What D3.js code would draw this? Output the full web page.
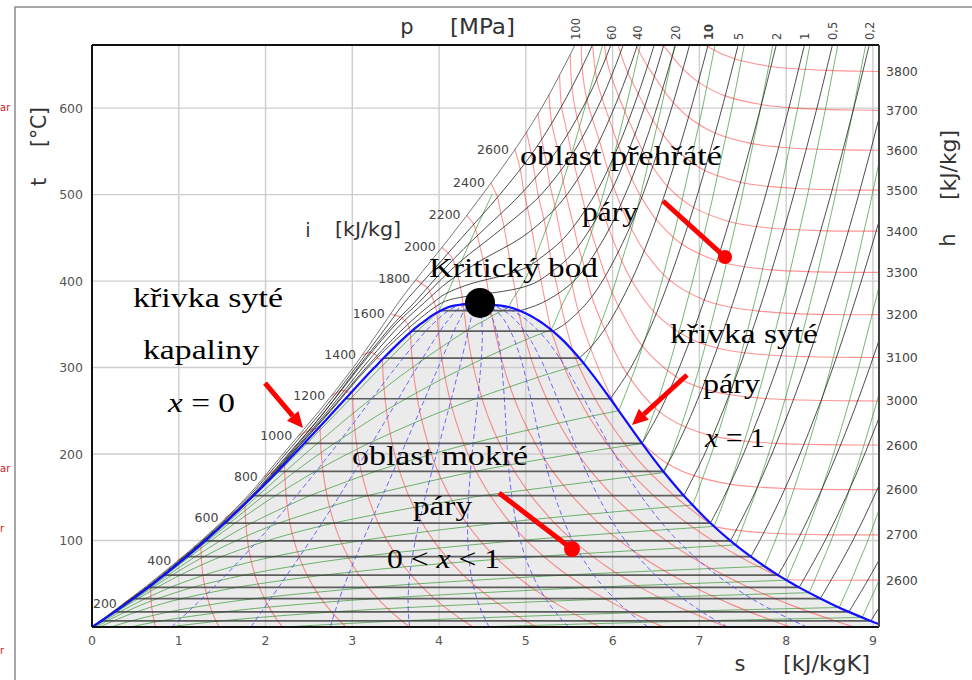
<!DOCTYPE html>
<html>
<head>
<meta charset="utf-8">
<script src="https://cdn.jsdelivr.net/npm/d3@7/dist/d3.min.js"></script>
<style>
  body { margin: 0; background: #fff; }
  svg { display: block; }
</style>
</head>
<body>
<svg id="chart" width="972" height="680"></svg>
<script>
// ---------------------------------------------------------------
// Water / steam property data
// saturation rows: [T °C, p MPa, vf, vg (m3/kg), hf, hg (kJ/kg), sf, sg (kJ/kgK)]
// ---------------------------------------------------------------
const saturation = [
  [0.01, 0.000611, 0.001000, 206.00, 0.00, 2500.9, 0.0000, 9.1556],
  [6.97, 0.001, 0.001000, 129.19, 29.30, 2513.7, 0.1059, 8.9749],
  [17.50, 0.002, 0.001001, 66.99, 73.43, 2532.9, 0.2606, 8.7227],
  [25.0, 0.003170, 0.001003, 43.340, 104.83, 2546.5, 0.3672, 8.5567],
  [32.87, 0.005, 0.001005, 28.185, 137.75, 2560.7, 0.4762, 8.3938],
  [45.81, 0.01, 0.001010, 14.670, 191.81, 2583.9, 0.6492, 8.1488],
  [50.0, 0.012352, 0.001012, 12.026, 209.34, 2591.3, 0.7038, 8.0748],
  [60.06, 0.02, 0.001017, 7.6481, 251.42, 2608.9, 0.8320, 7.9073],
  [70.0, 0.031201, 0.001023, 5.0396, 293.07, 2626.1, 0.9551, 7.7540],
  [81.32, 0.05, 0.001030, 3.2403, 340.54, 2645.2, 1.0912, 7.5931],
  [99.61, 0.1, 0.001043, 1.6941, 417.51, 2675.0, 1.3028, 7.3588],
  [120.21, 0.2, 0.001061, 0.88578, 504.70, 2706.3, 1.5302, 7.1270],
  [150.0, 0.4762, 0.001091, 0.39248, 632.18, 2745.9, 1.8418, 6.8371],
  [151.83, 0.5, 0.001093, 0.37483, 640.09, 2748.1, 1.8604, 6.8207],
  [179.88, 1.0, 0.001127, 0.19436, 762.51, 2777.1, 2.1381, 6.5850],
  [200.0, 1.5549, 0.001157, 0.12721, 852.26, 2792.0, 2.3305, 6.4302],
  [212.38, 2.0, 0.001177, 0.09959, 908.47, 2798.3, 2.4467, 6.3390],
  [240.0, 3.3469, 0.001229, 0.05971, 1037.5, 2803.0, 2.7020, 6.1423],
  [250.0, 3.9762, 0.001252, 0.05008, 1085.7, 2800.9, 2.7935, 6.0721],
  [263.94, 5.0, 0.001286, 0.03945, 1154.5, 2794.2, 2.9207, 5.9737],
  [290.0, 7.4416, 0.001366, 0.02557, 1290.0, 2765.7, 3.1594, 5.7821],
  [300.0, 8.5879, 0.001404, 0.02166, 1344.8, 2749.6, 3.2548, 5.7059],
  [311.00, 10.0, 0.001453, 0.018028, 1408.1, 2725.5, 3.3606, 5.6159],
  [330.0, 12.858, 0.001561, 0.012996, 1525.9, 2665.3, 3.5518, 5.4435],
  [342.16, 15.0, 0.001657, 0.010341, 1610.3, 2610.8, 3.6848, 5.3108],
  [350.0, 16.529, 0.001741, 0.008806, 1670.9, 2563.6, 3.7784, 5.2110],
  [355.0, 17.57, 0.001809, 0.007792, 1716.6, 2524.5, 3.8507, 5.1365],
  [360.0, 18.666, 0.001895, 0.006950, 1761.7, 2481.5, 3.9167, 5.0536],
  [365.75, 20.0, 0.002040, 0.005862, 1827.2, 2412.3, 4.0156, 4.9314],
  [370.0, 21.044, 0.002217, 0.004953, 1890.7, 2334.5, 4.1112, 4.8012],
  [372.0, 21.55, 0.00237, 0.00440, 1950.0, 2250.0, 4.190, 4.680],
  [373.0, 21.81, 0.00255, 0.00385, 1992.0, 2190.0, 4.262, 4.574],
  [373.6, 21.97, 0.00275, 0.00350, 2030.0, 2140.0, 4.330, 4.490],
  [373.95, 22.064, 0.003106, 0.003106, 2084.3, 2084.3, 4.4070, 4.4070]
];

// isobar tables: rows [T °C, s, h, v]; subcritical ones start at saturated vapour
const steam_0_001 = [[6.97,8.9749,2513.7,129.19],[50,9.2368,2592.0,148.67],[100,9.5116,2687.5,171.96],[150,9.7520,2783.0,195.13]];
const steam_0_002 = [[17.50,8.7227,2532.9,66.99],[50,8.9169,2592.0,74.34],[100,9.1917,2687.5,85.98],[150,9.4321,2783.0,97.56],[200,9.6477,2879.6,109.13]];
const steam_0_005 = [[32.87,8.3938,2560.7,28.185],[50,8.4940,2592.3,29.73],[100,8.7688,2687.5,34.39],[150,9.0092,2783.0,39.03],[200,9.2248,2879.6,43.65],[250,9.4214,2977.5,48.27],[300,9.6026,3076.7,52.89]];
const steam_0_01 = [[45.81,8.1488,2583.9,14.670],[50,8.1741,2592.0,14.867],[100,8.4489,2687.5,17.196],[150,8.6893,2783.0,19.513],[200,8.9049,2879.6,21.826],[250,9.1015,2977.5,24.136],[300,9.2827,3076.7,26.446],[350,9.4520,3177.4,28.755],[400,9.6115,3279.1,31.063],[500,9.9027,3489.1,35.680]];
const steam_0_02 = [[60.06,7.9073,2608.9,7.6481],[100,8.1287,2686.2,8.585],[150,8.3694,2782.3,9.748],[200,8.5850,2879.2,10.907],[250,8.7816,2977.2,12.064],[300,8.9628,3076.5,13.219],[350,9.1316,3177.2,14.373],[400,9.2907,3279.0,15.529],[500,9.5819,3489.0,17.838],[600,9.8457,3705.9,20.146]];
const steam_0_05 = [[81.32,7.5931,2645.2,3.2403],[100,7.6953,2682.4,3.4187],[150,7.9413,2780.2,3.8897],[200,8.1592,2877.7,4.3562],[250,8.3568,2976.2,4.8206],[300,8.5387,3075.8,5.2841],[400,8.8659,3278.9,6.2094],[500,9.1566,3488.7,7.1338],[600,9.4204,3705.9,8.0577],[700,9.6633,3929.0,8.9813]];
const steam_0_1 = [[99.61,7.3588,2675.0,1.6941],[150,7.6148,2776.6,1.9367],[200,7.8356,2875.5,2.1724],[250,8.0346,2974.5,2.4062],[300,8.2172,3074.5,2.6389],[400,8.5452,3278.6,3.1027],[500,8.8362,3488.7,3.5655],[600,9.0999,3705.6,4.0279],[700,9.3424,3928.9,4.4900]];
const steam_0_2 = [[120.21,7.1270,2706.3,0.88578],[150,7.2810,2769.1,0.95986],[200,7.5081,2870.7,1.08049],[250,7.7100,2971.2,1.19890],[300,7.8941,3072.1,1.31623],[400,8.2236,3277.0,1.54934],[500,8.5153,3487.7,1.78142],[600,8.7793,3704.8,2.01302],[700,9.0221,3928.2,2.24434]];
const steam_0_5 = [[151.83,6.8207,2748.1,0.37483],[200,7.0610,2855.8,0.42503],[250,7.2725,2961.0,0.47443],[300,7.4614,3064.6,0.52261],[350,7.6346,3168.1,0.57015],[400,7.7956,3272.4,0.61731],[500,8.0893,3484.5,0.71095],[600,8.3544,3702.5,0.80409],[700,8.5978,3925.7,0.89696]];
const steam_1 = [[179.88,6.5850,2777.1,0.19436],[200,6.6956,2828.3,0.20602],[250,6.9265,2943.1,0.23275],[300,7.1246,3051.6,0.25799],[350,7.3029,3158.2,0.28250],[400,7.4670,3264.5,0.30661],[500,7.7642,3479.1,0.35411],[600,8.0311,3698.6,0.40111],[700,8.2755,3923.0,0.44783]];
const steam_2 = [[212.38,6.3390,2798.3,0.09959],[250,6.5475,2903.3,0.11150],[300,6.7684,3024.2,0.12551],[350,6.9583,3137.7,0.13860],[400,7.1292,3248.4,0.15122],[450,7.2866,3358.2,0.16354],[500,7.4337,3468.3,0.17568],[600,7.7043,3690.7,0.19962],[700,7.9509,3917.4,0.22326]];
const steam_5 = [[263.94,5.9737,2794.2,0.03945],[300,6.2110,2925.7,0.04535],[350,6.4516,3069.3,0.05197],[400,6.6483,3196.7,0.05784],[450,6.8210,3317.2,0.06332],[500,6.9781,3434.7,0.06858],[600,7.2605,3666.9,0.07870],[700,7.5136,3900.3,0.08852]];
const steam_10 = [[311.00,5.6159,2725.5,0.018028],[325,5.7596,2810.3,0.019877],[350,5.9460,2924.0,0.022440],[400,6.2141,3097.5,0.026436],[450,6.4219,3242.4,0.029782],[500,6.5995,3375.1,0.032811],[600,6.9045,3625.8,0.038378],[700,7.1693,3870.0,0.043597]];
const steam_15 = [[342.16,5.3108,2610.8,0.010341],[350,5.4438,2692.9,0.011481],[375,5.7050,2868.0,0.013620],[400,5.8819,2975.7,0.015671],[450,6.1434,3157.9,0.018477],[500,6.3480,3310.8,0.020828],[600,6.6796,3583.1,0.024921],[700,6.9605,3839.1,0.028597]];
const steam_20 = [[365.75,4.9314,2412.3,0.005862],[375,5.1900,2580.0,0.007650],[400,5.5525,2816.9,0.009950],[450,5.9043,3061.7,0.012721],[500,6.1446,3241.2,0.014793],[550,6.3390,3396.2,0.016571],[600,6.5075,3539.0,0.018185],[700,6.8037,3807.8,0.021134]];
const steam_25 = [[0,0.000,25,0.00099],[50,0.699,231,0.00100],[100,1.300,440,0.00103],[150,1.850,650,0.00108],[200,2.306,866,0.00114],[250,2.752,1095,0.00122],[300,3.180,1338,0.00135],[350,3.700,1625,0.00160],[375,4.035,1849,0.00198],[380,4.189,1949,0.00222],[384,4.441,2114,0.00265],[388,4.728,2303,0.00340],[392,4.932,2438,0.00420],[396,5.059,2523,0.00520],[400,5.142,2579,0.00601],[425,5.472,2808,0.00789],[450,5.674,2951,0.00918],[500,5.964,3166,0.01114],[550,6.182,3336,0.01274],[600,6.364,3494,0.01414],[650,6.522,3638,0.01543],[700,6.667,3776,0.01664]];
const steam_30 = [[0,0.000,30,0.00099],[50,0.697,235,0.00100],[100,1.298,444,0.00103],[150,1.845,654,0.00107],[200,2.300,868,0.00113],[250,2.740,1093,0.00121],[300,3.160,1330,0.00133],[350,3.640,1600,0.00156],[375,3.931,1792,0.00179],[385,4.069,1882,0.00196],[395,4.307,2040,0.00236],[400,4.476,2153,0.00280],[405,4.682,2292,0.00345],[410,4.860,2413,0.00410],[415,4.990,2502,0.00460],[420,5.080,2564,0.00497],[425,5.147,2612,0.00530],[450,5.442,2821,0.00674],[500,5.796,3085,0.00869],[550,6.040,3277,0.01018],[600,6.237,3447,0.01145],[650,6.407,3605,0.01259],[700,6.560,3750,0.01365]];
const steam_40 = [[0,0.000,40,0.00098],[50,0.695,244,0.00100],[100,1.295,452,0.00102],[150,1.838,661,0.00107],[200,2.288,873,0.00112],[250,2.720,1093,0.00120],[300,3.120,1322,0.00131],[350,3.560,1570,0.00150],[375,3.829,1743,0.00164],[400,4.115,1931,0.00191],[425,4.504,2199,0.00254],[450,4.945,2512,0.00369],[475,5.250,2730,0.00475],[500,5.474,2907,0.00562],[550,5.786,3148,0.00699],[600,6.017,3350,0.00809],[650,6.208,3532,0.00905],[700,6.374,3693,0.00993]];
const steam_50 = [[0,0.000,49,0.00098],[50,0.693,253,0.00099],[100,1.292,460,0.00102],[150,1.830,668,0.00106],[200,2.275,879,0.00111],[250,2.690,1096,0.00119],[300,3.079,1318,0.00129],[350,3.500,1555,0.00146],[375,3.764,1717,0.00156],[400,4.003,1874,0.00173],[425,4.273,2061,0.00201],[450,4.590,2285,0.00249],[475,4.900,2510,0.00318],[500,5.176,2723,0.00389],[550,5.556,3020,0.00512],[600,5.825,3253,0.00611],[650,6.037,3450,0.00697],[700,6.218,3624,0.00773]];
const steam_60 = [[0,0.000,59,0.00097],[50,0.690,262,0.00099],[100,1.285,468,0.00102],[150,1.820,675,0.00106],[200,2.262,885,0.00111],[250,2.688,1100,0.00118],[300,3.065,1318,0.00127],[350,3.470,1546,0.00143],[375,3.714,1700,0.00150],[400,3.932,1843,0.00163],[425,4.163,2002,0.00182],[450,4.414,2180,0.00209],[475,4.680,2375,0.00249],[500,4.936,2570,0.00295],[550,5.352,2887,0.00396],[600,5.653,3157,0.00483],[650,5.889,3366,0.00559],[700,6.079,3550,0.00627]];
const steam_80 = [[0,0.000,77,0.00096],[50,0.675,280,0.00098],[100,1.273,483,0.00101],[150,1.800,690,0.00105],[200,2.230,897,0.00110],[250,2.655,1112,0.00116],[300,3.040,1328,0.00124],[350,3.415,1545,0.00136],[375,3.600,1678,0.00142],[400,3.820,1815,0.00151],[450,4.260,2100,0.00174],[500,4.700,2420,0.00213],[550,5.090,2720,0.00268],[600,5.400,2990,0.00328],[650,5.660,3210,0.00385],[700,5.890,3400,0.00436]];
const steam_100 = [[0,0.000,95,0.00096],[50,0.660,290,0.00098],[100,1.260,495,0.00100],[150,1.780,700,0.00104],[200,2.200,910,0.00108],[250,2.620,1125,0.00114],[300,3.010,1340,0.00121],[350,3.360,1545,0.00131],[375,3.530,1660,0.00137],[400,3.720,1790,0.00145],[450,4.120,2060,0.00160],[500,4.500,2330,0.00185],[550,4.860,2590,0.00220],[600,5.180,2830,0.00260],[650,5.450,3050,0.00300],[700,5.700,3250,0.00340]];

const isobarTables = [
  [0.001, steam_0_001], [0.002, steam_0_002], [0.005, steam_0_005], [0.01, steam_0_01],
  [0.02, steam_0_02], [0.05, steam_0_05], [0.1, steam_0_1], [0.2, steam_0_2],
  [0.5, steam_0_5], [1, steam_1], [2, steam_2], [5, steam_5], [10, steam_10],
  [15, steam_15], [20, steam_20], [25, steam_25], [30, steam_30], [40, steam_40],
  [50, steam_50], [60, steam_60], [80, steam_80], [100, steam_100]
];

// drawn iso-lines
const enthalpyLines = [200, 400, 600, 800, 1000, 1200, 1400, 1600, 1800, 2000, 2200, 2400, 2600,
                       2700, 2800, 2900, 3000, 3100, 3200, 3300, 3400, 3500, 3600, 3700, 3800];
const volumeLines = [0.002, 0.005, 0.01, 0.02, 0.05, 0.1, 0.2, 0.5, 1, 2, 5, 10, 20, 50, 100];
const qualityLines = [0.1, 0.2, 0.3, 0.4, 0.5, 0.6, 0.7, 0.8, 0.9];
const isothermGrid = [50, 75, 100, 125, 150, 175, 200, 250, 300, 325, 350, 375, 400, 425, 450, 500, 550, 600, 650, 700];

// labels
const tTicks = [100, 200, 300, 400, 500, 600];
const sTicks = [0, 1, 2, 3, 4, 5, 6, 7, 8, 9];
const pressureLabels = [[100, "100"], [60, "60"], [40, "40"], [20, "20"], [10, "10"], [5, "5"],
                        [2, "2"], [1, "1"], [0.5, "0,5"], [0.2, "0,2"]];
const leftHLabels = [200, 400, 600, 800, 1000, 1200, 1400, 1600, 1800, 2000, 2200, 2400, 2600];
const rightHLines = [3800, 3700, 3600, 3500, 3400, 3300, 3200, 3100, 3000, 2900, 2800, 2700, 2600];
const rightHTexts = ["3800", "3700", "3600", "3500", "3400", "3300", "3200", "3100", "3000",
                     "2600", "2600", "2700", "2600"];
const marginTexts = [[107, "ar"], [468, "ar"], [528, "r"], [650, "r"]];
const criticalMarker = { s: 4.472, t: 374.7 };

// ---------------------------------------------------------------
const PC = 22.064, TC = 373.95;
const sat = saturation.map(r => ({T: r[0], p: r[1], vf: r[2], vg: r[3], hf: r[4], hg: r[5], sf: r[6], sg: r[7]}));
const isobars = isobarTables.map(([p, rows]) => ({
  p, rows: rows.map(r => ({T: r[0], s: r[1], h: r[2], v: r[3]}))
}));

const svg = d3.select("#chart");
const x = d3.scaleLinear().domain([0, 9.07]).range([92, 879]);
const y = d3.scaleLinear().domain([0, 673]).range([627, 45]);
const X0 = x(0), X1 = x(9.07), Y0 = y(0), Y1 = y(673);

const lerp = (a, b, f) => a + f * (b - a);
const loglerp = (a, b, f) => Math.exp(Math.log(a) + f * (Math.log(b) - Math.log(a)));

function satAt(T) {
  for (let i = 0; i < sat.length - 1; i++) {
    const a = sat[i], b = sat[i + 1];
    if (T >= a.T && T <= b.T) {
      const f = (T - a.T) / (b.T - a.T);
      return {T, p: loglerp(a.p, b.p, f), vf: loglerp(a.vf, b.vf, f), vg: loglerp(a.vg, b.vg, f),
              hf: lerp(a.hf, b.hf, f), hg: lerp(a.hg, b.hg, f), sf: lerp(a.sf, b.sf, f), sg: lerp(a.sg, b.sg, f)};
    }
  }
  return null;
}

function stateOnIsobar(ib, T) {
  const r = ib.rows;
  for (let i = 0; i < r.length - 1; i++) {
    const a = r[i], b = r[i + 1];
    if (T >= a.T && T <= b.T) {
      const f = (T - a.T) / (b.T - a.T);
      return {p: ib.p, s: lerp(a.s, b.s, f), h: lerp(a.h, b.h, f), v: loglerp(a.v, b.v, f)};
    }
  }
  return null;
}

// constant enthalpy line
function isenthalp(H) {
  const pts = [];
  isobars.forEach(ib => {
    const r = ib.rows;
    for (let i = 0; i < r.length - 1; i++) {
      const a = r[i], b = r[i + 1];
      if ((a.h - H) * (b.h - H) <= 0 && a.h !== b.h) {
        const f = (H - a.h) / (b.h - a.h);
        pts.push({p: ib.p, s: lerp(a.s, b.s, f), T: lerp(a.T, b.T, f)});
        break;
      }
    }
  });
  sat.forEach(r => {
    if (r.hg > r.hf && H >= r.hf && H <= r.hg) {
      const q = (H - r.hf) / (r.hg - r.hf);
      pts.push({p: r.p, s: r.sf + q * (r.sg - r.sf), T: r.T});
    }
  });
  for (let i = 0; i < sat.length - 1; i++) {
    const a = sat[i], b = sat[i + 1];
    [["hf", "sf"], ["hg", "sg"]].forEach(([hk, sk]) => {
      if ((a[hk] - H) * (b[hk] - H) < 0) {
        const f = (H - a[hk]) / (b[hk] - a[hk]);
        pts.push({p: loglerp(a.p, b.p, f), s: lerp(a[sk], b[sk], f), T: lerp(a.T, b.T, f), kink: true});
      }
    });
  }
  pts.sort((a, b) => b.p - a.p);
  return pts;
}

function isothermSegments(T) {
  const sub = [], sup = [];
  isobars.forEach(ib => {
    if (ib.p < PC) {
      if (T > ib.rows[0].T) { const st = stateOnIsobar(ib, T); if (st) sub.push(st); }
    } else {
      const st = stateOnIsobar(ib, T); if (st) sup.push(st);
    }
  });
  if (T < TC) {
    const sr = satAt(T);
    return [[...sub, {p: sr.p, s: sr.sg, v: sr.vg}], [{p: sr.p, s: sr.sf, v: sr.vf}, ...sup]];
  }
  return [[...sub, ...sup]];
}

// constant specific volume line
function isochore(V) {
  const pts = [];
  sat.forEach(r => {
    if (r.vg > r.vf && V >= r.vf && V <= r.vg) {
      const q = (V - r.vf) / (r.vg - r.vf);
      pts.push({T: r.T, s: r.sf + q * (r.sg - r.sf)});
    }
  });
  for (let i = 0; i < sat.length - 1; i++) {
    const a = sat[i], b = sat[i + 1];
    [["vf", "sf"], ["vg", "sg"]].forEach(([vk, sk]) => {
      if ((a[vk] - V) * (b[vk] - V) < 0) {
        const f = (Math.log(V) - Math.log(a[vk])) / (Math.log(b[vk]) - Math.log(a[vk]));
        pts.push({T: lerp(a.T, b.T, f), s: lerp(a[sk], b[sk], f), kink: true});
      }
    });
  }
  isothermGrid.forEach(T => {
    isothermSegments(T).forEach(seg => {
      for (let i = 0; i < seg.length - 1; i++) {
        const a = seg[i], b = seg[i + 1];
        if ((a.v - V) * (b.v - V) <= 0 && a.v !== b.v) {
          const f = (Math.log(V) - Math.log(a.v)) / (Math.log(b.v) - Math.log(a.v));
          pts.push({T, s: lerp(a.s, b.s, f)});
          break;
        }
      }
    });
  });
  pts.sort((a, b) => a.T - b.T);
  return pts;
}

function dedupe(pts) {
  return pts.filter((d, i) => i === 0 || Math.abs(d.s - pts[i - 1].s) > 1e-4 || Math.abs(d.T - pts[i - 1].T) > 1e-4);
}
function pieces(pts) {
  const out = []; let cur = [];
  pts.forEach(p => {
    cur.push(p);
    if (p.kink && cur.length > 1) { out.push(cur); cur = [p]; }
  });
  if (cur.length > 1) out.push(cur);
  return out;
}

const curve = d3.line().x(d => x(d.s)).y(d => y(d.T)).curve(d3.curveCatmullRom.alpha(0.5));

// ---------------------------------------------------------------
// outer frame and margin text
svg.append("rect").attr("x", 15).attr("y", 7).attr("width", 1000).attr("height", 700)
  .attr("fill", "none").attr("stroke", "#8c8c8c").attr("stroke-width", 1.5);
marginTexts.forEach(([yy, txt]) => {
  svg.append("text").attr("x", 0).attr("y", yy + 4)
    .attr("font-family", "DejaVu Sans").attr("font-size", 10).attr("fill", "#d42020").text(txt);
});

const defs = svg.append("defs");
defs.append("clipPath").attr("id", "plotclip").append("rect")
  .attr("x", X0).attr("y", Y1).attr("width", X1 - X0).attr("height", Y0 - Y1);
const plot = svg.append("g").attr("clip-path", "url(#plotclip)");

// wet-steam region
const domePts = [...sat.map(r => ({s: r.sf, T: r.T})), ...sat.slice(0, -1).reverse().map(r => ({s: r.sg, T: r.T}))];
plot.append("path").attr("d", curve(domePts) + "Z").attr("fill", "#ebebeb").attr("stroke", "none");

// grid
const grid = plot.append("g").attr("stroke", "#cdcdcd").attr("stroke-width", 1.4);
[1, 2, 3, 4, 5, 6, 7, 8, 9].forEach(v => grid.append("line").attr("x1", x(v)).attr("x2", x(v)).attr("y1", Y1).attr("y2", Y0));
tTicks.forEach(v => grid.append("line").attr("x1", X0).attr("x2", X1).attr("y1", y(v)).attr("y2", y(v)));

// isochores
const gV = plot.append("g").attr("fill", "none").attr("stroke", "#1f8a1f").attr("stroke-opacity", 0.62).attr("stroke-width", 1);
volumeLines.forEach(V => pieces(dedupe(isochore(V))).forEach(pc => gV.append("path").attr("d", curve(pc))));

// isenthalps
const gH = plot.append("g").attr("fill", "none").attr("stroke", "#ff2a2a").attr("stroke-opacity", 0.5).attr("stroke-width", 1.1);
const hCurves = {};
enthalpyLines.forEach(H => {
  const pts = dedupe(isenthalp(H));
  hCurves[H] = pts;
  pieces(pts).forEach(pc => gH.append("path").attr("d", curve(pc)));
});

// isobars
const gP = plot.append("g").attr("fill", "none");
isobars.forEach(ib => {
  const pts = ib.rows.map(r => ({s: r.s, T: r.T}));
  if (ib.p < PC) {
    const sr = sat.find(r => Math.abs(r.p - ib.p) < 1e-9);
    gP.append("line").attr("x1", x(sr.sf)).attr("x2", x(sr.sg)).attr("y1", y(sr.T)).attr("y2", y(sr.T))
      .attr("stroke", "#3a3a3a").attr("stroke-opacity", 0.8).attr("stroke-width", 1.7);
  }
  gP.append("path").attr("d", curve(pts))
    .attr("stroke", ib.p === 100 ? "#555" : "#222").attr("stroke-opacity", 0.8).attr("stroke-width", 1);
});

// lines of constant dryness
const gX = plot.append("g").attr("fill", "none").attr("stroke", "#4646ff").attr("stroke-opacity", 0.8)
  .attr("stroke-width", 1).attr("stroke-dasharray", "5,3");
qualityLines.forEach(q => {
  const pts = sat.map(r => ({s: r.sf + q * (r.sg - r.sf), T: r.T}));
  gX.append("path").attr("d", curve(pts));
});

// saturation curve
plot.append("path").attr("d", curve(domePts)).attr("fill", "none").attr("stroke", "#1010ff").attr("stroke-width", 2.2);

// plot border
svg.append("line").attr("x1", X0).attr("x2", X1).attr("y1", Y1).attr("y2", Y1).attr("stroke", "#111").attr("stroke-width", 2);
svg.append("line").attr("x1", X0).attr("x2", X1).attr("y1", Y0).attr("y2", Y0).attr("stroke", "#111").attr("stroke-width", 2);
svg.append("line").attr("x1", X0).attr("x2", X0).attr("y1", Y1).attr("y2", Y0).attr("stroke", "#111").attr("stroke-width", 2);
svg.append("line").attr("x1", X1).attr("x2", X1).attr("y1", Y1).attr("y2", Y0).attr("stroke", "#444").attr("stroke-width", 2);

// ---------------------------------------------------------------
// tick labels
const sans = "DejaVu Sans, Verdana, sans-serif";
const serif = "Liberation Serif, Times New Roman, serif";
const tickG = svg.append("g").attr("font-family", sans).attr("font-size", 12.5).attr("fill", "#555");
tTicks.forEach(v => tickG.append("text").attr("x", X0 - 9).attr("y", y(v) + 4.5).attr("text-anchor", "end").text(v));
sTicks.forEach(v => tickG.append("text").attr("x", x(v)).attr("y", 645).attr("text-anchor", "middle").text(v));

// enthalpy labels on the 100 MPa line
const hlG = svg.append("g").attr("font-family", sans).attr("font-size", 12.5).attr("fill", "#444");
leftHLabels.forEach(H => {
  const p0 = hCurves[H][0];
  hlG.append("text").attr("x", x(p0.s) - 6).attr("y", y(p0.T) + 4).attr("text-anchor", "end").text(H);
});

// enthalpy labels at the right edge
rightHLines.forEach((H, i) => {
  const pts = hCurves[H];
  let T = null;
  for (let k = 0; k < pts.length - 1; k++) {
    const a = pts[k], b = pts[k + 1];
    if (a.s <= 9.07 && b.s >= 9.07) { T = lerp(a.T, b.T, (9.07 - a.s) / (b.s - a.s)); break; }
  }
  if (T !== null) hlG.append("text").attr("x", X1 + 7).attr("y", y(T) + 4.5).text(rightHTexts[i]);
});

// pressure labels along the top edge
const plG = svg.append("g").attr("font-family", sans).attr("font-size", 11.5).attr("fill", "#444");
pressureLabels.forEach(([p, txt]) => {
  const ib = isobars.find(b => b.p === p);
  const st = stateOnIsobar(ib, 673);
  if (!st) return;
  plG.append("text").attr("transform", `translate(${x(st.s) + 1},40) rotate(-90)`).attr("dy", "0.35em")
    .attr("font-weight", txt === "10" ? "bold" : "normal").text(txt);
});

// axis titles
const at = svg.append("g").attr("font-family", sans).attr("fill", "#333").attr("font-size", 21);
at.append("text").attr("x", 407).attr("y", 34).attr("text-anchor", "middle").text("p");
at.append("text").attr("x", 450).attr("y", 34).attr("textLength", 65).attr("lengthAdjust", "spacingAndGlyphs").text("[MPa]");
at.append("text").attr("transform", "translate(39,182) rotate(-90)").attr("dy", "0.35em").attr("text-anchor", "middle").text("t");
at.append("text").attr("transform", "translate(39,127) rotate(-90)").attr("dy", "0.35em").attr("text-anchor", "middle")
  .attr("textLength", 40).attr("lengthAdjust", "spacingAndGlyphs").text("[°C]");
at.append("text").attr("transform", "translate(949,165) rotate(-90)").attr("dy", "0.35em").attr("text-anchor", "middle")
  .attr("textLength", 70).attr("lengthAdjust", "spacingAndGlyphs").text("[kJ/kg]");
at.append("text").attr("transform", "translate(948,240) rotate(-90)").attr("dy", "0.35em").attr("text-anchor", "middle").text("h");
at.append("text").attr("x", 740).attr("y", 671).attr("text-anchor", "middle").text("s");
at.append("text").attr("x", 783).attr("y", 671).attr("textLength", 87).attr("lengthAdjust", "spacingAndGlyphs").text("[kJ/kgK]");
at.append("text").attr("x", 308).attr("y", 237).attr("font-size", 19).attr("text-anchor", "middle").text("i");
at.append("text").attr("x", 335).attr("y", 236).attr("font-size", 19).attr("textLength", 66).attr("lengthAdjust", "spacingAndGlyphs").text("[kJ/kg]");

// ---------------------------------------------------------------
// annotations
const ann = svg.append("g");
function arrow(s1, t1, s2, t2, len, wid) {
  const x1 = x(s1), y1 = y(t1), x2 = x(s2), y2 = y(t2);
  const a = Math.atan2(y2 - y1, x2 - x1);
  const bx = x2 - len * Math.cos(a), by = y2 - len * Math.sin(a);
  ann.append("line").attr("x1", x1).attr("y1", y1).attr("x2", bx).attr("y2", by)
    .attr("stroke", "#ff0000").attr("stroke-width", 5);
  const px = -Math.sin(a) * wid / 2, py = Math.cos(a) * wid / 2;
  ann.append("path").attr("d", `M${x2},${y2}L${bx + px},${by + py}L${bx - px},${by - py}Z`).attr("fill", "#ff0000");
}
function pointer(s1, t1, s2, t2, r) {
  ann.append("line").attr("x1", x(s1)).attr("y1", y(t1)).attr("x2", x(s2)).attr("y2", y(t2))
    .attr("stroke", "#ff0000").attr("stroke-width", 5);
  ann.append("circle").attr("cx", x(s2)).attr("cy", y(t2)).attr("r", r).attr("fill", "#ff0000");
}
arrow(1.994, 282.1, 2.432, 230.1, 16, 15);
arrow(6.857, 291.4, 6.223, 233.6, 16, 15);
pointer(6.581, 492.6, 7.295, 427.8, 7);
pointer(4.691, 154.9, 5.532, 90.2, 8);

ann.append("circle").attr("cx", x(criticalMarker.s)).attr("cy", y(criticalMarker.t)).attr("r", 15).attr("fill", "#000");

const notes = [
  {x: 520, y: 165, w: 202, parts: [["oblast přehřáté"]]},
  {x: 582, y: 221, w: 56, parts: [["páry"]]},
  {x: 429, y: 277, w: 169, parts: [["Kritický bod"]]},
  {x: 133, y: 307, w: 150, parts: [["křivka syté"]]},
  {x: 143, y: 359, w: 116, parts: [["kapaliny"]]},
  {x: 168, y: 412, w: 67, parts: [["x", "italic"], [" = 0"]]},
  {x: 670, y: 343, w: 148, parts: [["křivka syté"]]},
  {x: 703, y: 393, w: 57, parts: [["páry"]]},
  {x: 705, y: 447, w: 60, parts: [["x", "italic"], [" = 1"]]},
  {x: 352, y: 465, w: 176, parts: [["oblast mokré"]]},
  {x: 413, y: 515, w: 59, parts: [["páry"]]},
  {x: 387, y: 568, w: 113, parts: [["0 < "], ["x", "italic"], [" < 1"]]}
];
notes.forEach(n => {
  const t = ann.append("text").attr("x", n.x).attr("y", n.y).attr("font-family", serif).attr("font-size", 28)
    .attr("fill", "#000").attr("textLength", n.w).attr("lengthAdjust", "spacingAndGlyphs").attr("xml:space", "preserve");
  n.parts.forEach(([txt, st]) => {
    const sp = t.append("tspan").text(txt);
    if (st) sp.attr("font-style", st);
  });
});
</script>
</body>
</html>
